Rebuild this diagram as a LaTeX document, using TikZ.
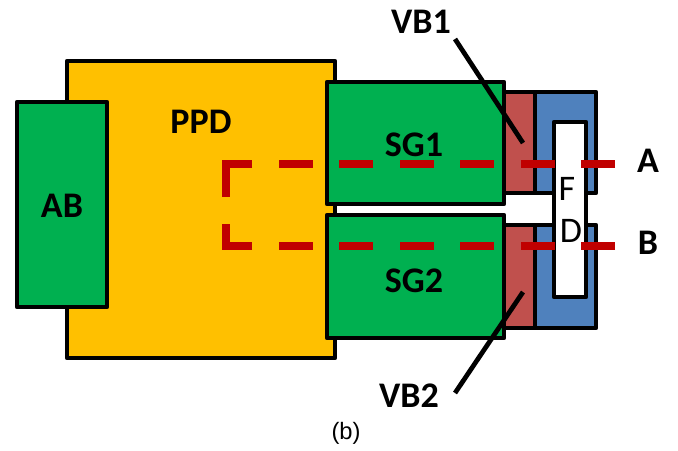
\documentclass[tikz,border=0pt]{standalone}
\usepackage{fontspec}
\setmainfont{Carlito}
\setsansfont{Liberation Sans}
\usepackage{xcolor}
\usepackage{tikz}
\definecolor{ppdyellow}{HTML}{FFC000}
\definecolor{gategreen}{HTML}{00B050}
\definecolor{barrierred}{HTML}{C0504D}
\definecolor{fdblue}{HTML}{4F81BD}
\definecolor{cutred}{HTML}{C00000}
\tikzset{
    block/.style={
        shape=rectangle,
        draw=black,
        line width=2.7pt,
        line join=round,
        inner sep=0pt,
    },
    gate/.style={block, fill=gategreen},
    barrier/.style={block, fill=barrierred, minimum width=.62cm},
    well/.style={block, fill=fdblue, minimum width=1.22cm},
    partlabel/.style={font={\fontsize{20.5pt}{24}\selectfont\bfseries}, inner sep=0pt},
    fdlabel/.style={font={\fontsize{20.5pt}{24}\selectfont}, inner sep=0pt},
    leader/.style={draw=black, line width=2.7pt},
    cutline/.style={draw=cutred, line width=4.8pt},
    cutdash/.style={cutline, dash pattern=on .68cm off .53cm},
}
\begin{document}
\begin{tikzpicture}[x=.02cm, y=-.02cm]
\useasboundingbox (0,0) rectangle (678,450);
\node (ppd) at (201,209.5) [block, fill=ppdyellow, minimum width=5.36cm, minimum height=5.94cm] {};
\node (ab) at (62,204.5) [gate, minimum width=1.8cm, minimum height=4.1cm] {};
\node (vb1) at (519.5,142.5) [barrier, minimum height=2.02cm] {};
\node (vb2) at (519.5,276.5) [barrier, minimum height=2.06cm] {};
\node (well1) at (565.5,142.5) [well, minimum height=2.02cm] {};
\node (well2) at (565.5,276.5) [well, minimum height=2.06cm] {};
\node (sg1) at (415.5,143) [gate, minimum width=3.54cm, minimum height=2.44cm] {};
\node (sg2) at (415.5,276.5) [gate, minimum width=3.54cm, minimum height=2.46cm] {};
\node (fd) at (570,209.5) [block, fill=white, minimum width=.64cm, minimum height=3.5cm] {};
% labels
\node (ppdtext) at (201,122) [partlabel] {PPD};
\node (abtext) at (62,206) [partlabel] {AB};
\node (sg1text) at (414,145) [partlabel] {SG1};
\node (sg2text) at (414,281) [partlabel] {SG2};
\node (ftext) at (567,189) [fdlabel] {F};
\node (dtext) at (571,231) [fdlabel] {D};
\node (vb1text) at (421,22) [partlabel] {VB1};
\node (vb2text) at (409,396) [partlabel] {VB2};
\node (atext) at (648,161) [partlabel] {A};
\node (btext) at (648,243) [partlabel] {B};
\node (caption) at (346,433) [font={\fontsize{13.5pt}{16}\selectfont\sffamily}, inner sep=0pt] {(b)};
% cut lines
\coordinate (a1) at (615,164);
\coordinate (a2) at (279,164);
\coordinate (a3) at (252,164);
\coordinate (a4) at (226,164);
\coordinate (a5) at (226,197);
\coordinate (b1) at (615,246);
\coordinate (b2) at (279,246);
\coordinate (b3) at (252,246);
\coordinate (b4) at (226,246);
\coordinate (b5) at (226,224);
\draw[cutdash] (a1) -- (a2);
\draw[cutdash] (b1) -- (b2);
\draw[cutline] (a3) -- (a4) -- (a5);
\draw[cutline] (b3) -- (b4) -- (b5);
% leaders
\coordinate (vb1top) at (455,39);
\coordinate (vb1end) at (523,143);
\coordinate (vb2bot) at (455,393);
\coordinate (vb2end) at (523,292);
\draw[leader] (vb1top) -- (vb1end);
\draw[leader] (vb2bot) -- (vb2end);
\end{tikzpicture}
\end{document}
